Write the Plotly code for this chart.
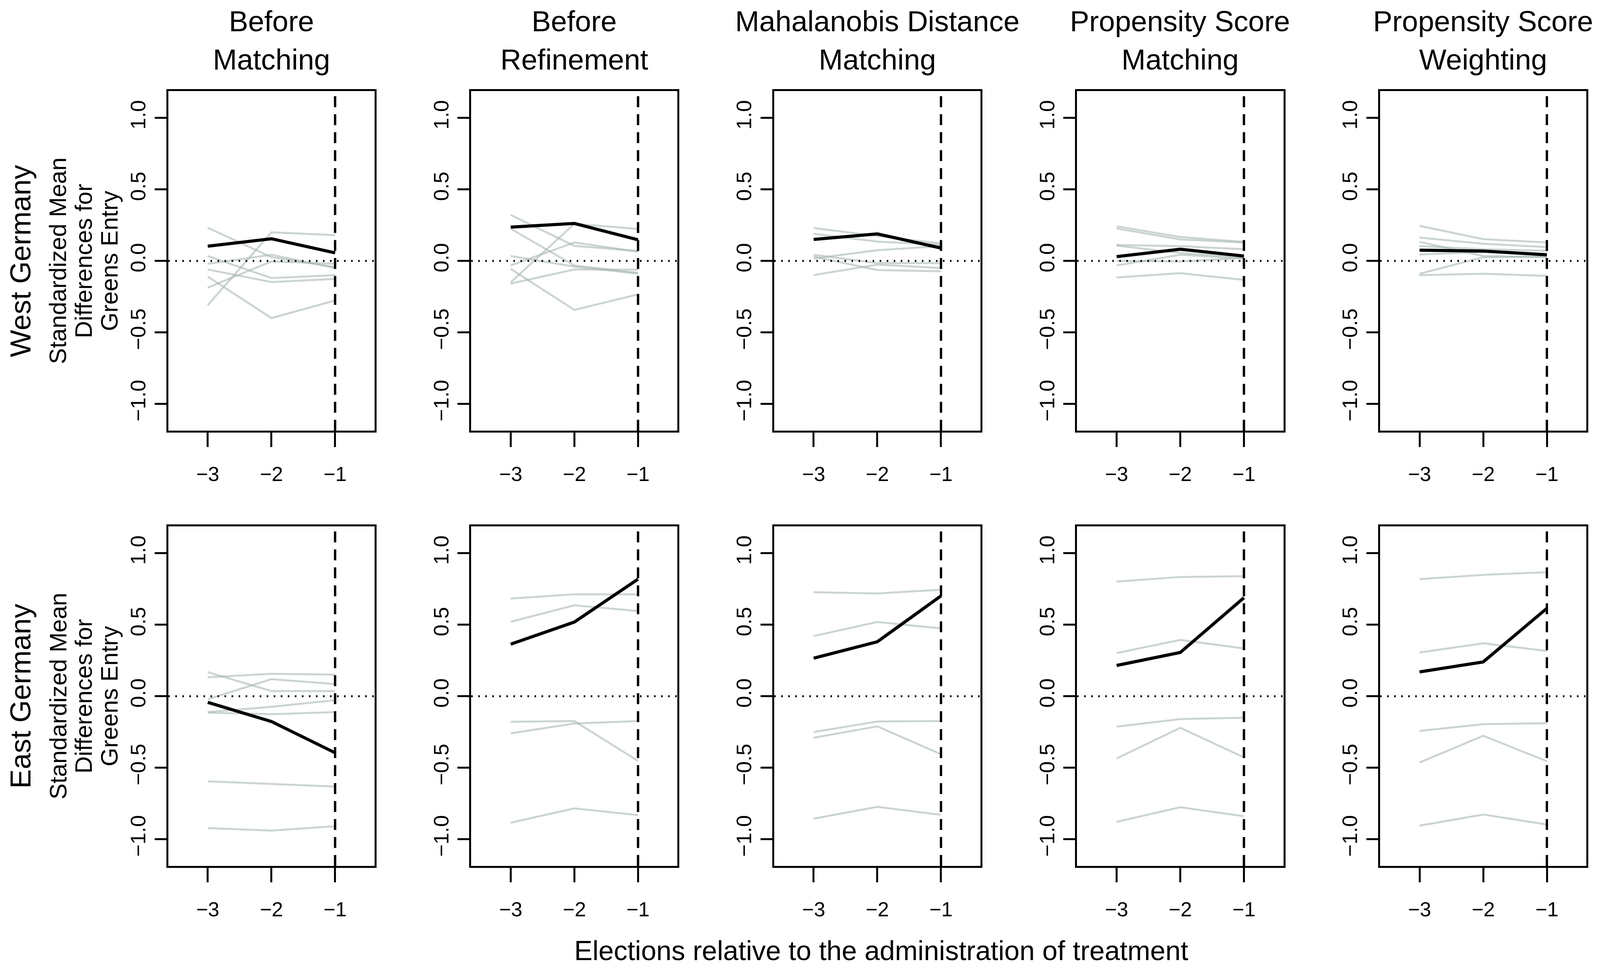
import plotly.graph_objects as go

# ---------------- data ----------------
elections = [-3, -2, -1]
x_tick_labels = ["\u22123", "\u22122", "\u22121"]
y_tick_values = [-1.0, -0.5, 0.0, 0.5, 1.0]
y_tick_labels = ["\u22121.0", "\u22120.5", "0.0", "0.5", "1.0"]

title_line1 = ["Before", "Before", "Mahalanobis Distance", "Propensity Score", "Propensity Score"]
title_line2 = ["Matching", "Refinement", "Matching", "Matching", "Weighting"]
row_labels = ["West Germany", "East Germany"]
y_label_lines = ["Standardized Mean", "Differences for", "Greens Entry"]
x_label = "Elections relative to the administration of treatment"

# West Germany
west_before_matching_outcome = [0.103, 0.155, 0.056]
west_before_matching_covariates = [
    [0.232, 0.026, -0.043],
    [-0.31, 0.20, 0.18],
    [-0.11, -0.40, -0.277],
    [-0.187, -0.004, -0.02],
    [0.034, -0.12, -0.10],
    [-0.021, 0.043, -0.05],
    [-0.06, -0.148, -0.126],
]
west_before_refinement_outcome = [0.236, 0.262, 0.148]
west_before_refinement_covariates = [
    [0.322, 0.105, 0.069],
    [0.225, -0.032, -0.084],
    [-0.150, 0.26, 0.223],
    [-0.032, 0.129, 0.064],
    [0.034, -0.04, -0.09],
    [-0.159, -0.06, -0.062],
    [-0.056, -0.343, -0.234],
]
west_mahalanobis_outcome = [0.150, 0.189, 0.090]
west_mahalanobis_covariates = [
    [0.23, 0.174, 0.122],
    [0.19, 0.135, 0.112],
    [0.017, 0.075, 0.103],
    [0.043, -0.015, -0.015],
    [0.03, -0.064, -0.073],
    [-0.099, -0.026, -0.05],
]
west_ps_matching_outcome = [0.030, 0.082, 0.034]
west_ps_matching_covariates = [
    [0.242, 0.167, 0.133],
    [0.227, 0.150, 0.129],
    [0.112, 0.103, 0.082],
    [0.107, 0.056, 0.026],
    [-0.032, 0.043, 0.017],
    [0.0, -0.004, 0.02],
    [-0.116, -0.086, -0.133],
]
west_ps_weighting_outcome = [0.075, 0.069, 0.043]
west_ps_weighting_covariates = [
    [0.245, 0.152, 0.129],
    [0.163, 0.120, 0.097],
    [0.133, 0.034, 0.026],
    [0.103, 0.082, 0.071],
    [0.045, 0.062, 0.049],
    [-0.09, 0.026, 0.03],
    [-0.10, -0.09, -0.105],
]

# East Germany
east_before_matching_outcome = [-0.043, -0.177, -0.396]
east_before_matching_covariates = [
    [0.132, 0.157, 0.151],
    [0.168, 0.036, 0.036],
    [-0.021, 0.119, 0.085],
    [-0.111, -0.074, -0.028],
    [-0.115, -0.126, -0.111],
    [-0.596, -0.613, -0.632],
    [-0.923, -0.940, -0.910],
]
east_before_refinement_outcome = [0.364, 0.519, 0.819]
east_before_refinement_covariates = [
    [0.683, 0.713, 0.713],
    [0.521, 0.636, 0.596],
    [-0.179, -0.174, -0.453],
    [-0.26, -0.191, -0.174],
    [-0.885, -0.785, -0.832],
]
east_mahalanobis_outcome = [0.266, 0.381, 0.702]
east_mahalanobis_covariates = [
    [0.728, 0.719, 0.745],
    [0.421, 0.519, 0.474],
    [-0.251, -0.177, -0.174],
    [-0.291, -0.211, -0.406],
    [-0.857, -0.774, -0.830],
]
east_ps_matching_outcome = [0.215, 0.306, 0.689]
east_ps_matching_covariates = [
    [0.802, 0.834, 0.840],
    [0.302, 0.394, 0.334],
    [-0.213, -0.160, -0.151],
    [-0.436, -0.221, -0.428],
    [-0.879, -0.777, -0.840],
]
east_ps_weighting_outcome = [0.170, 0.240, 0.615]
east_ps_weighting_covariates = [
    [0.819, 0.849, 0.868],
    [0.306, 0.370, 0.317],
    [-0.243, -0.196, -0.189],
    [-0.464, -0.277, -0.455],
    [-0.906, -0.828, -0.898],
]

panels = [
    [(west_before_matching_outcome, west_before_matching_covariates),
     (west_before_refinement_outcome, west_before_refinement_covariates),
     (west_mahalanobis_outcome, west_mahalanobis_covariates),
     (west_ps_matching_outcome, west_ps_matching_covariates),
     (west_ps_weighting_outcome, west_ps_weighting_covariates)],
    [(east_before_matching_outcome, east_before_matching_covariates),
     (east_before_refinement_outcome, east_before_refinement_covariates),
     (east_mahalanobis_outcome, east_mahalanobis_covariates),
     (east_ps_matching_outcome, east_ps_matching_covariates),
     (east_ps_weighting_outcome, east_ps_weighting_covariates)],
]

# ---------------- styling / geometry (reference canvas 5153 x 2490) ----------------
REF_W, REF_H = 5153, 2490
FONT = "Liberation Sans, Arial, Helvetica, sans-serif"
GREY = "rgba(168,184,178,0.6)"
BOX_LEFT0 = 534
PITCH = 979.5
BOX_W = 667
ROW_TOP = [227, 1350]
BOX_H = 876
X_RANGE = [-3.62, -0.38]
Y_RANGE = [-1.188, 1.188]

def fx(v):
    return v / REF_W

def fy(v):
    return 1 - v / REF_H

fig = go.Figure()
layout = dict(
    autosize=True,
    margin=dict(l=0, r=0, t=0, b=0),
    paper_bgcolor="white", plot_bgcolor="white",
    showlegend=False,
    font=dict(family=FONT, color="black"),
)
shapes = []
annotations = []

k = 0
for r in range(2):
    for c in range(5):
        k += 1
        xa = "x" if k == 1 else f"x{k}"
        ya = "y" if k == 1 else f"y{k}"
        left = BOX_LEFT0 + PITCH * c
        top = ROW_TOP[r]
        outcome, covariates = panels[r][c]
        for cov in covariates:
            fig.add_trace(go.Scatter(x=elections, y=cov, mode="lines",
                                     line=dict(color=GREY, width=5),
                                     xaxis=xa, yaxis=ya, hoverinfo="skip"))
        fig.add_trace(go.Scatter(x=elections, y=outcome, mode="lines",
                                 line=dict(color="black", width=8),
                                 xaxis=xa, yaxis=ya, hoverinfo="skip"))
        axis_common = dict(
            showgrid=False, zeroline=False, showline=True, mirror=True,
            linecolor="black", linewidth=5, ticks="outside",
            tickwidth=5, tickcolor="black", fixedrange=True,
        )
        layout["xaxis" if k == 1 else f"xaxis{k}"] = dict(
            domain=[fx(left), fx(left + BOX_W)], anchor=ya,
            range=X_RANGE, tickmode="array", tickvals=elections,
            ticktext=x_tick_labels, ticklen=37, ticklabelstandoff=24,
            tickfont=dict(family=FONT, size=52, color="black"), **axis_common)
        layout["yaxis" if k == 1 else f"yaxis{k}"] = dict(
            domain=[fy(top + BOX_H), fy(top)], anchor=xa,
            range=Y_RANGE, tickmode="array", tickvals=y_tick_values,
            ticktext=y_tick_labels, tickangle=-90, ticklen=30, ticklabelstandoff=2,
            tickfont=dict(family=FONT, size=54, color="black"), **axis_common)
        xd = xa + " domain"
        yd = ya + " domain"
        shapes.append(dict(type="line", xref=xd, x0=0, x1=1, yref=ya, y0=0, y1=0,
                           line=dict(color="black", width=5, dash="4px,14px"),
                           layer="above"))
        shapes.append(dict(type="line", xref=xa, x0=-1, x1=-1, yref=yd, y0=0, y1=1,
                           line=dict(color="black", width=6, dash="28px,18px"),
                           layer="above"))
        if r == 0:
            cx = left + BOX_W / 2
            annotations.append(dict(text=title_line1[c], x=fx(cx), y=fy(47),
                                    xref="paper", yref="paper", showarrow=False,
                                    xanchor="center", yanchor="middle",
                                    font=dict(family=FONT, size=74, color="black")))
            annotations.append(dict(text=title_line2[c], x=fx(cx), y=fy(146),
                                    xref="paper", yref="paper", showarrow=False,
                                    xanchor="center", yanchor="middle",
                                    font=dict(family=FONT, size=74, color="black")))

# row labels and y-axis labels
for r in range(2):
    zero_y = ROW_TOP[r] + BOX_H / 2
    annotations.append(dict(text=row_labels[r], x=fx(56), y=fy(zero_y),
                            xref="paper", yref="paper", showarrow=False,
                            textangle=-90, xanchor="center", yanchor="middle",
                            font=dict(family=FONT, size=74, color="black")))
    for i, line_x in enumerate([177, 260, 343]):
        annotations.append(dict(text=y_label_lines[i], x=fx(line_x), y=fy(zero_y),
                                xref="paper", yref="paper", showarrow=False,
                                textangle=-90, xanchor="center", yanchor="middle",
                                font=dict(family=FONT, size=61, color="black")))

annotations.append(dict(text=x_label, x=fx(2839), y=fy(2445),
                        xref="paper", yref="paper", showarrow=False,
                        xanchor="center", yanchor="middle",
                        font=dict(family=FONT, size=70, color="black")))

layout["shapes"] = shapes
layout["annotations"] = annotations
fig.update_layout(**layout)
fig.write_html("out.html", default_width="100%", default_height="calc(100vh - 20px)",
               config={"responsive": True, "displayModeBar": False})
